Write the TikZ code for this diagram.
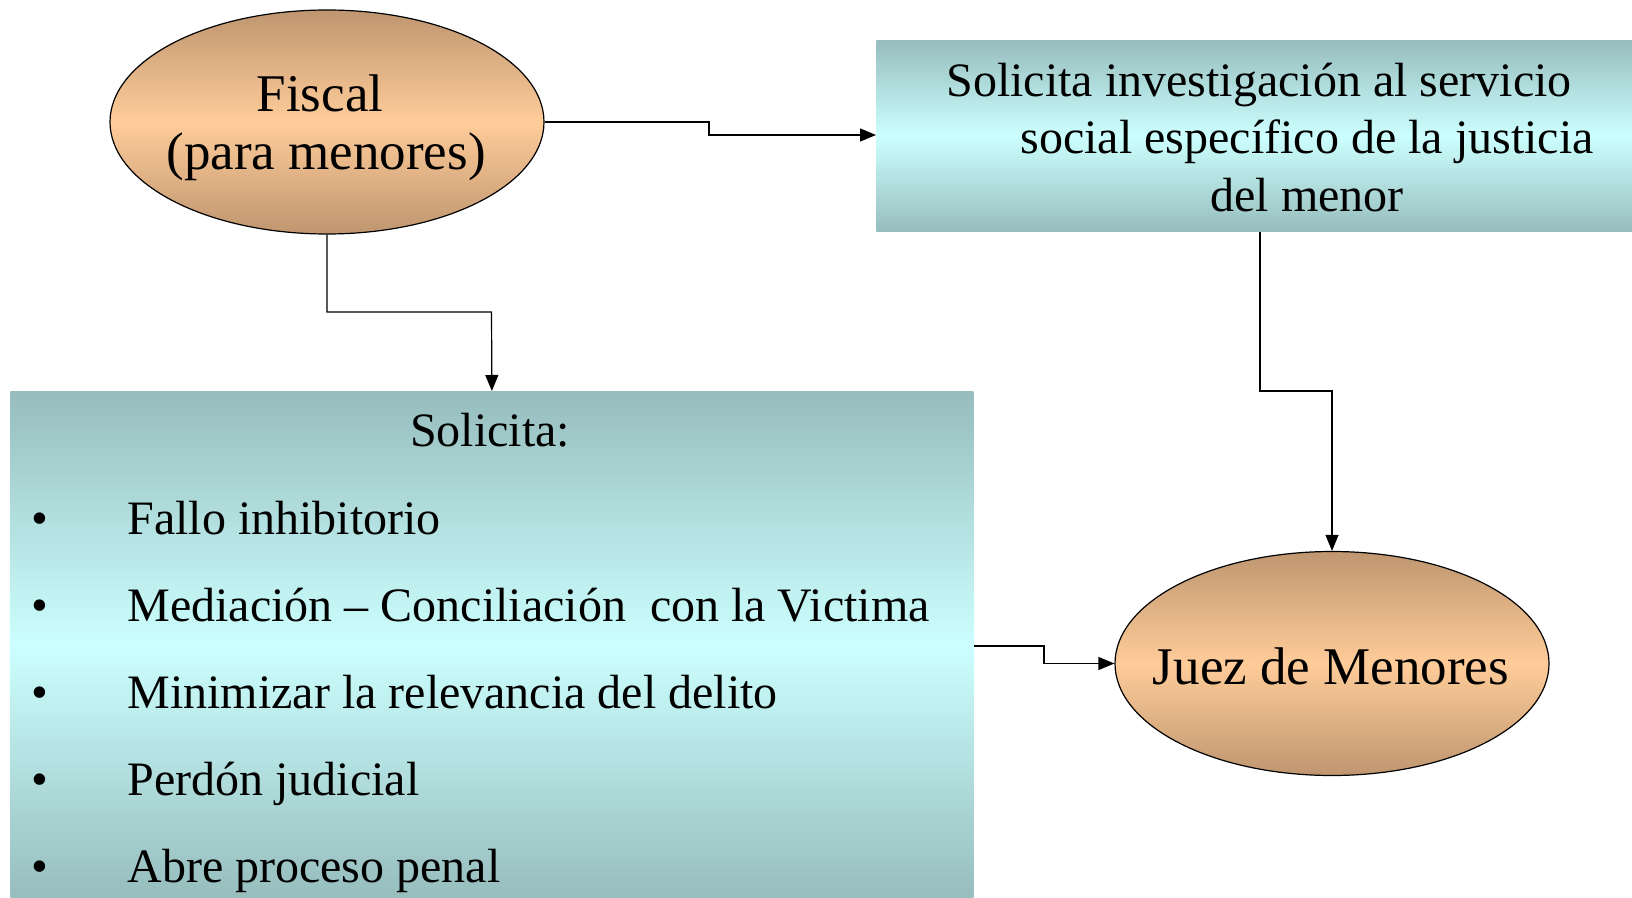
\documentclass[tikz,border=0pt]{standalone}
\usepackage{fontspec}
\setmainfont{Liberation Serif}
\usetikzlibrary{shapes.geometric,arrows.meta}
\definecolor{tealedge}{HTML}{97BDBD}
\definecolor{tealmid}{HTML}{CCFFFF}
\definecolor{tanedge}{HTML}{BF9670}
\definecolor{tanmid}{HTML}{FFCC99}
\begin{document}
\begin{tikzpicture}[x=1pt,y=1pt,
  oval/.style={ellipse, draw=black, line width=0.6pt, top color=tanedge, bottom color=tanedge, middle color=tanmid, minimum width=217pt, minimum height=112pt, inner sep=0pt},
  otxt/.style={font=\fontsize{26.5}{29}\selectfont, inner sep=0pt, anchor=base},
  panel/.style={rectangle, draw=none, top color=tealedge, bottom color=tealedge, middle color=tealmid, inner sep=0pt, anchor=north west},
  txt/.style={font=\fontsize{24}{28.6}\selectfont, inner sep=0pt},
  conn/.style={line width=0.6pt, -{Triangle[length=8pt,width=6.5pt]}}]
\useasboundingbox (0,0) rectangle (816,-449);
\node[oval] (fiscal) at (163.5,-61) {};
\node[otxt] (ft1) at (160,-55.7) {Fiscal};
\node[otxt] (ft2) at (163,-84.8) {(para menores)};
\node[oval] (juez) at (666,-331.75) {};
\node[otxt] (jt) at (665.5,-342) {Juez de Menores};
\node[panel, minimum width=378pt, minimum height=95.5pt] (tbox) at (438,-20) {};
\node[panel, minimum width=481.5pt, minimum height=253.5pt] (bbox) at (5,-195.5) {};
% top box text
\node[txt, anchor=base] (t1) at (629.5,-48.4) {Solicita investigación al servicio};
\node[txt, anchor=base] (t2) at (653.5,-77) {social específico de la justicia};
\node[txt, anchor=base] (t3) at (653.5,-105.6) {del menor};
% big box text
\node[txt, anchor=base] (sol) at (245,-223) {Solicita:};
\foreach \y/\n/\t in {-267/1/{Fallo inhibitorio},
  -310.5/2/{Mediación – Conciliación\ \ con la Victima},
  -354/3/{Minimizar la relevancia del delito},
  -397.5/4/{Perdón judicial},
  -441/5/{Abre proceso penal}}{
  \node[txt, anchor=base] (b\n) at (19.8,\y) {•};
  \node[txt, anchor=base west] (i\n) at (63.5,\y) {\t};
}
% connectors
\coordinate (k1) at (354.5,-67.5);
\draw[conn] (fiscal.east) -| (k1) -- (k1 -| tbox.west);
\coordinate (k2) at (245.75,-156);
\draw[conn] (fiscal.south) |- (k2) -- (bbox.north);
\coordinate (k3) at (630,-195.5);
\draw[conn] (k3 |- tbox.south) -- (k3) -| (juez.north);
\coordinate (k4) at (522,-323);
\draw[conn] (k4 -| bbox.east) -- (k4) |- (juez.west);
\end{tikzpicture}
\end{document}
